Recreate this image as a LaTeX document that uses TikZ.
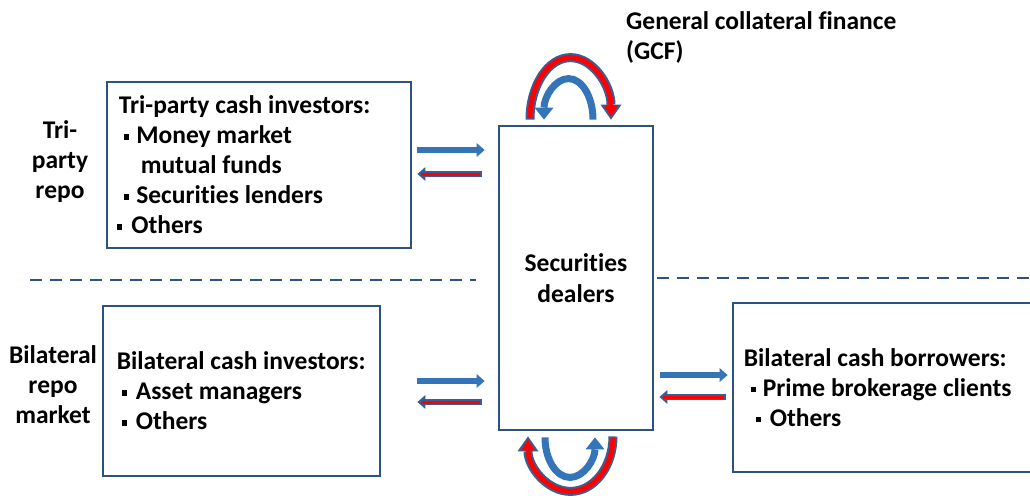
\documentclass[tikz,border=0pt]{standalone}
\usepackage{fontspec}
\setmainfont{Carlito}[Ligatures={NoCommon}]
\usetikzlibrary{arrows.meta,calc}
\definecolor{boxblue}{RGB}{44,82,130}
\definecolor{arrblue}{RGB}{52,117,185}
\definecolor{outblue}{RGB}{55,95,150}
\definecolor{arrred}{RGB}{255,0,0}
\newcommand\bul{\rule[4pt]{5.5pt}{5.5pt}}
\tikzset{
  box/.style={draw=boxblue, line width=2.8pt, rectangle, inner sep=0pt},
  txt/.style={font=\fontsize{25.5}{30}\selectfont\bfseries, inner sep=0pt, align=left},
  ctxt/.style={font=\fontsize{25.5}{30}\selectfont\bfseries, inner sep=0pt, align=center},
  sep/.style={draw=boxblue, line width=2.5pt, dash pattern=on 12pt off 8pt},
  bluearr/.style={draw=arrblue, line width=6pt, -{Triangle[length=8pt,width=14pt,line width=0pt]}},
  redout/.style={draw=outblue, line width=6.5pt, -{Triangle[length=8pt,width=14pt,line width=0pt]}},
  redin/.style={draw=arrred, line width=3pt, shorten <=1.5pt, shorten >=4pt},
  bluearc/.style={draw=arrblue, line width=7pt, -{Triangle[length=12pt,width=19pt,line width=0pt]}},
  redarcout/.style={draw=outblue, line width=9pt, -{Triangle[length=15pt,width=21pt,line width=0pt]}},
  redarcin/.style={draw=arrred, line width=5pt, shorten <=1.5pt, shorten >=3pt, -{Triangle[length=11pt,width=14pt,line width=0pt]}},
}
\begin{document}
\begin{tikzpicture}[x=1pt,y=-1pt]
\clip (0,0) rectangle (1030,499);
\fill[white] (0,0) rectangle (1030,499);

% boxes
\node[box, minimum width=304pt, minimum height=166pt] (tri) at (259,165) {};
\node[box, minimum width=277pt, minimum height=170pt] (inv) at (241.5,391) {};
\node[box, minimum width=154pt, minimum height=304pt, font=\fontsize{25.5}{31}\selectfont\bfseries, align=center] (dealers) at (576,278) {Securities\\dealers};
\node[box, minimum width=330pt, minimum height=169pt] (bor) at (898,387.5) {};

% box texts
\node[txt, anchor=west] (tritxt) at ($(tri.west)+(13,0)$) {Tri-party cash investors:\\
\hspace*{5pt}\bul\hspace{7pt}Money market\\
\hspace*{22pt}mutual funds\\
\hspace*{5pt}\bul\hspace{7pt}Securities lenders\\
\hspace*{-2pt}\bul\hspace{9pt}Others};
\node[txt, anchor=west] (invtxt) at ($(inv.west)+(15,0)$) {Bilateral cash investors:\\
\hspace*{5pt}\bul\hspace{8.5pt}Asset managers\\
\hspace*{5pt}\bul\hspace{8.5pt}Others};
\node[txt, anchor=west] (bortxt) at ($(bor.west)+(12,0)$) {Bilateral cash borrowers:\\
\hspace*{7pt}\bul\hspace{6.5pt}Prime brokerage clients\\
\hspace*{12pt}\bul\hspace{8.5pt}Others};

% side labels
\node[ctxt] (trilab) at (60,162) {Tri-\\party\\repo};
\node[ctxt] (bilab) at (53,385) {Bilateral\\repo\\market};
\node[txt, anchor=west] (gcf) at (626,37) {General collateral finance\\(GCF)};

% dashed separators
\coordinate (dl1) at (30,280);
\coordinate (dl2) at (476,280);
\coordinate (dr1) at (657,278);
\coordinate (dr2) at (1030,278);
\draw[sep] (dl1) -- (dl2);
\draw[sep] (dr1) -- (dr2);

% straight arrows: tri-party
\draw[bluearr] ([xshift=5pt,yshift=15pt]tri.east) -- ([xshift=-13pt,yshift=128pt]dealers.west);
\draw[redout] ([xshift=-16pt,yshift=104pt]dealers.west) -- ([xshift=5pt,yshift=-9pt]tri.east);
\draw[redin] ([xshift=-16pt,yshift=104pt]dealers.west) -- ([xshift=5pt,yshift=-9pt]tri.east);
% bilateral investors
\draw[bluearr] ([xshift=36pt,yshift=10pt]inv.east) -- ([xshift=-13pt,yshift=-103pt]dealers.west);
\draw[redout] ([xshift=-16pt,yshift=-124pt]dealers.west) -- ([xshift=36pt,yshift=-11pt]inv.east);
\draw[redin] ([xshift=-16pt,yshift=-124pt]dealers.west) -- ([xshift=36pt,yshift=-11pt]inv.east);
% borrowers
\draw[bluearr] ([xshift=6pt,yshift=-97pt]dealers.east) -- ([xshift=-4pt,yshift=12.5pt]bor.west);
\draw[redout] ([xshift=-6pt,yshift=-9.5pt]bor.west) -- ([xshift=5pt,yshift=-119pt]dealers.east);
\draw[redin] ([xshift=-6pt,yshift=-9.5pt]bor.west) -- ([xshift=5pt,yshift=-119pt]dealers.east);

% GCF loops on top
\draw[redarcout] ([xshift=-46pt,yshift=5pt]dealers.north) arc[start angle=180, end angle=0, x radius=40.5pt, y radius=62pt];
\draw[redarcin] ([xshift=-46pt,yshift=5pt]dealers.north) arc[start angle=180, end angle=0, x radius=40.5pt, y radius=62pt];
\draw[bluearc] ([xshift=17pt,yshift=5pt]dealers.north) arc[start angle=0, end angle=180, x radius=24.5pt, y radius=41pt];

% loops at bottom
\draw[redarcout] ([xshift=37pt,yshift=-5pt]dealers.south) arc[start angle=0, end angle=-180, x radius=42.5pt, y radius=55pt];
\draw[redarcin] ([xshift=37pt,yshift=-5pt]dealers.south) arc[start angle=0, end angle=-180, x radius=42.5pt, y radius=55pt];
\draw[bluearc] ([xshift=-31pt,yshift=-6pt]dealers.south) arc[start angle=180, end angle=360, x radius=25pt, y radius=40pt];
\end{tikzpicture}
\end{document}
